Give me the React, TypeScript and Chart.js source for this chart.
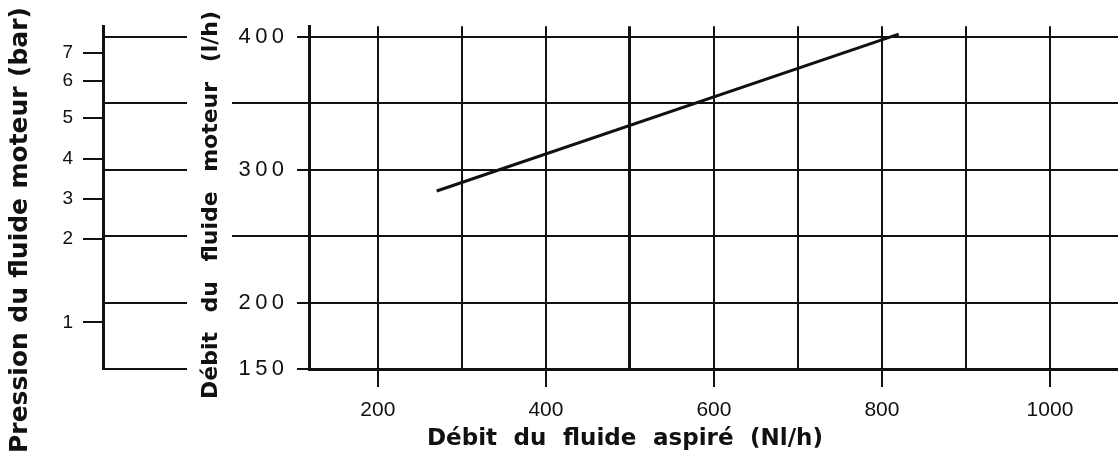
import React, { useEffect, useRef } from "react";
import { Chart, registerables } from "chart.js";

Chart.register(...registerables);

// ---- data ----
const lineX = [270, 820];
const lineY = [284, 402];

const xGridTicks = [200, 300, 400, 500, 600, 700, 800, 900, 1000];
const xLabelled = [200, 400, 600, 800, 1000];

const flowTicks = [150, 200, 250, 300, 350, 400];
const flowLabelled = [150, 200, 300, 400];

const pressureLabels = ["7", "6", "5", "4", "3", "2", "1"];
const pressureAtFlow = [388, 367, 339, 308, 278, 248, 185];

const X_MIN = 118;
const X_MAX = 1081;
const Y_MIN = 150;
const Y_MAX = 408;

const titleX = "Débit du fluide aspiré (Nl/h)";
const titleFlow = "Débit du fluide moteur (l/h)";
const titlePressure = "Pression du fluide moteur (bar)";

const INK = "#111111";

function drawSpread(ctx: CanvasRenderingContext2D, text: string, target: number) {
  const words = text.split(" ");
  const widths = words.map((w) => ctx.measureText(w).width);
  const sum = widths.reduce((a, b) => a + b, 0);
  const gap = (target - sum) / (words.length - 1);
  let x = 0;
  words.forEach((w, i) => {
    ctx.fillText(w, x, 0);
    x += widths[i] + gap;
  });
}

const extras = {
  id: "extras",
  afterDraw(chart: any) {
    const ctx: CanvasRenderingContext2D = chart.ctx;
    const y = chart.scales.y;
    const yP = chart.scales.yP;
    ctx.save();
    ctx.strokeStyle = INK;
    ctx.lineWidth = 2;
    flowTicks.forEach((v) => {
      const py = Math.round(y.getPixelForValue(v));
      ctx.beginPath();
      ctx.moveTo(yP.right, py);
      ctx.lineTo(yP.right + 84, py);
      ctx.stroke();
      if (!flowLabelled.includes(v)) {
        ctx.beginPath();
        ctx.moveTo(y.left + 129, py);
        ctx.lineTo(y.right, py);
        ctx.stroke();
      }
    });

    ctx.fillStyle = INK;
    ctx.textBaseline = "alphabetic";
    ctx.textAlign = "left";

    // x title
    ctx.save();
    ctx.font = "bold 23px 'DejaVu Sans', sans-serif";
    ctx.translate(427, 445);
    drawSpread(ctx, titleX, 396);
    ctx.restore();

    // flow title (rotated)
    ctx.save();
    ctx.font = "bold 22px 'DejaVu Sans', sans-serif";
    ctx.translate(217, 399);
    ctx.rotate(-Math.PI / 2);
    drawSpread(ctx, titleFlow, 388);
    ctx.restore();

    // pressure title (rotated)
    ctx.save();
    ctx.font = "bold 25px 'DejaVu Sans', sans-serif";
    ctx.translate(27, 453);
    ctx.rotate(-Math.PI / 2);
    drawSpread(ctx, titlePressure, 446);
    ctx.restore();

    ctx.restore();
  },
};

export default function App() {
  const ref = useRef<HTMLCanvasElement | null>(null);

  useEffect(() => {
    if (!ref.current) return;
    const chart = new Chart(ref.current, {
      type: "line",
      data: {
        datasets: [
          {
            data: lineX.map((x, i) => ({ x, y: lineY[i] })),
            borderColor: INK,
            borderWidth: 3,
            pointRadius: 0,
            xAxisID: "x",
            yAxisID: "y",
          },
        ],
      },
      options: {
        animation: false,
        responsive: false,
        devicePixelRatio: 1,
        layout: { padding: { top: 24, left: 0, right: 0, bottom: 0 } },
        plugins: { legend: { display: false }, tooltip: { enabled: false } },
        scales: {
          x: {
            type: "linear",
            position: "bottom",
            min: X_MIN,
            max: X_MAX,
            afterBuildTicks: (s: any) => {
              s.ticks = xGridTicks.map((v) => ({ value: v }));
            },
            afterFit: (s: any) => {
              s.height = 88;
            },
            ticks: {
              autoSkip: false,
              maxRotation: 0,
              padding: 11,
              color: INK,
              font: { family: "'Liberation Sans', Arial, sans-serif", size: 21 },
              callback: (v: any) => (xLabelled.includes(Number(v)) ? String(v) : ""),
            },
            grid: {
              color: INK,
              lineWidth: (c: any) => (c.tick && c.tick.value === 500 ? 3 : 2),
              tickLength: 18,
              tickWidth: 2,
              tickColor: (c: any) =>
                c.tick && xLabelled.includes(c.tick.value) ? INK : "rgba(0,0,0,0)",
            },
            border: { color: INK, width: 3 },
          },
          y: {
            type: "linear",
            position: "left",
            weight: 0,
            min: Y_MIN,
            max: Y_MAX,
            afterBuildTicks: (s: any) => {
              s.ticks = flowTicks.map((v) => ({ value: v }));
            },
            afterFit: (s: any) => {
              s.width = 206;
            },
            ticks: {
              autoSkip: false,
              padding: 13,
              color: INK,
              font: { family: "'Liberation Sans', Arial, sans-serif", size: 22 },
              callback: (v: any) =>
                flowLabelled.includes(Number(v)) ? String(v).split("").join("\u2009") : "",
            },
            grid: {
              color: INK,
              lineWidth: 2,
              tickLength: 12,
            },
            border: { color: INK, width: 3 },
          },
          yP: {
            type: "linear",
            position: "left",
            weight: 1,
            min: Y_MIN,
            max: Y_MAX,
            afterBuildTicks: (s: any) => {
              s.ticks = pressureAtFlow.map((v) => ({ value: v }));
            },
            afterFit: (s: any) => {
              s.width = 103;
            },
            ticks: {
              autoSkip: false,
              padding: 10,
              color: INK,
              font: { family: "'Liberation Sans', Arial, sans-serif", size: 19 },
              callback: (_v: any, i: number) => pressureLabels[i],
            },
            grid: {
              color: INK,
              lineWidth: 2,
              drawOnChartArea: false,
              tickLength: 20,
            },
            border: { color: INK, width: 3 },
          },
        },
      } as any,
      plugins: [extras],
    });
    return () => chart.destroy();
  }, []);

  return (
    <canvas
      ref={ref}
      width={1118}
      height={457}
      style={{ position: "absolute", left: 0, top: 0, width: 1118, height: 457, background: "#fff" }}
    />
  );
}
